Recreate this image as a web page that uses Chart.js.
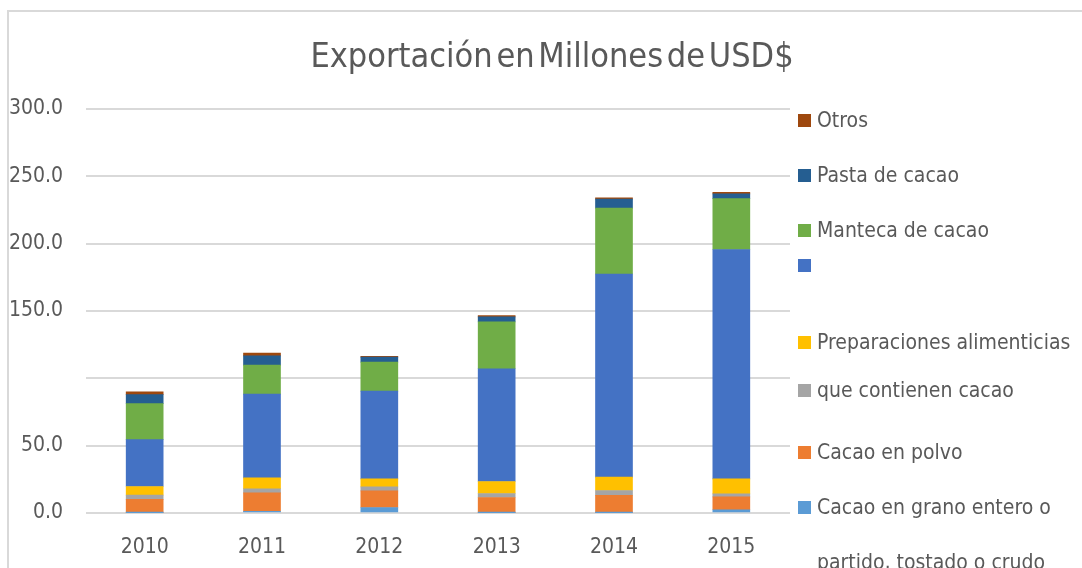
<!DOCTYPE html>
<html>
<head>
<meta charset="utf-8">
<script src="https://cdn.jsdelivr.net/npm/chart.js@4/dist/chart.umd.min.js"></script>
<style>
  html, body { margin: 0; background: #fff; overflow: hidden; }
  #wrap { position: relative; width: 1082px; height: 568px; overflow: hidden; }
  #frameTop { position: absolute; left: 7px; top: 10px; width: 1075px; height: 2px; background: #d9d9d9; }
  #frameLeft { position: absolute; left: 7px; top: 10px; width: 2px; height: 558px; background: #d9d9d9; }
  canvas { position: absolute; left: 0; top: 0; }
  #title { position: absolute; left: 552px; top: 38px; transform: translateX(-50%); white-space: nowrap;
           font-family: "DejaVu Sans Condensed", "DejaVu Sans", sans-serif; font-size: 34px; line-height: 34px;
           color: #595959; word-spacing: -6px; }
  #legend { position: absolute; left: 798px; top: 0; font-family: "DejaVu Sans Condensed", "DejaVu Sans", sans-serif;
            font-size: 21px; color: #595959; }
  .item { position: absolute; left: 0; white-space: nowrap; display: flex; align-items: center; }
  .sw { width: 13px; height: 13px; margin-right: 6px; flex: none; }
  .item span.txt { line-height: 55px; }
</style>
</head>
<body>
<div id="wrap">
  <div id="frameTop"></div>
  <div id="frameLeft"></div>
  <canvas id="chart" width="1082" height="568"></canvas>
  <div id="title">Exportación en Millones de USD$</div>
  <div id="legend"></div>
</div>
<script>
const years = ['2010', '2011', '2012', '2013', '2014', '2015'];
const seriesNames = ['Cacao en grano entero o partido, tostado o crudo', 'Cacao en polvo', 'que contienen cacao',
    'Preparaciones alimenticias', '', 'Manteca de cacao', 'Pasta de cacao', 'Otros'];
const seriesColors = ['#5b9bd5', '#ed7d31', '#a5a5a5', '#ffc000', '#4472c4', '#70ad47', '#255e91', '#9e480e'];

const granoValues = [0.2, 1.2, 4.1, 0.2, 0.2, 2.4];
const polvoValues = [9.9, 13.8, 12.3, 11.3, 13.0, 9.6];
const contienenValues = [3.2, 3.0, 3.0, 3.0, 3.5, 2.2];
const preparacionesValues = [6.4, 8.1, 5.9, 8.9, 9.9, 11.1];
const sinNombreValues = [34.8, 62.2, 65.2, 83.7, 150.9, 170.4];
const mantecaValues = [26.7, 21.5, 21.5, 34.8, 48.9, 37.8];
const pastaValues = [6.7, 6.9, 3.7, 3.7, 6.7, 3.5];
const otrosValues = [2.0, 2.0, 0.7, 1.0, 1.0, 1.2];

const yTicks = [0, 50, 100, 150, 200, 250, 300];
const hiddenTickLabels = [100];

const allValues = [granoValues, polvoValues, contienenValues, preparacionesValues,
    sinNombreValues, mantecaValues, pastaValues, otrosValues];

const FONT = '"DejaVu Sans Condensed", "DejaVu Sans", sans-serif';
const TEXT = '#595959';

const datasets = allValues.map((vals, i) => ({
    label: seriesNames[i],
    data: vals,
    backgroundColor: seriesColors[i],
    borderWidth: 0,
    barThickness: 37
}));

new Chart(document.getElementById('chart').getContext('2d'), {
    type: 'bar',
    data: { labels: years, datasets: datasets },
    options: {
        responsive: false,
        animation: false,
        layout: { padding: { left: 0, right: 292, top: 109, bottom: 0 } },
        plugins: {
            legend: { display: false },
            tooltip: { enabled: false },
            title: { display: false }
        },
        scales: {
            x: {
                stacked: true,
                grid: { display: false },
                border: { display: false },
                ticks: { color: TEXT, font: { family: FONT, size: 21 }, padding: 14 },
                afterFit: scale => { scale.height = 55; }
            },
            y: {
                stacked: true,
                min: 0,
                max: 300,
                afterBuildTicks: scale => { scale.ticks = yTicks.map(v => ({ value: v })); },
                grid: { color: '#d9d9d9', lineWidth: 2, drawTicks: false },
                border: { display: false },
                ticks: {
                    color: TEXT,
                    font: { family: FONT, size: 21 },
                    padding: 23,
                    callback: v => hiddenTickLabels.includes(v) ? '' : v.toFixed(1)
                },
                afterFit: scale => { scale.width = 86; }
            }
        }
    }
});

// legend, top entry first like the original
const legend = document.getElementById('legend');
const legendY = [120, 175, 230, 286, 342, 390, 452, 507];
seriesNames.slice().reverse().forEach((name, i) => {
    const idx = seriesNames.length - 1 - i;
    const item = document.createElement('div');
    item.className = 'item';
    item.style.top = (legendY[i] - 27) + 'px';
    item.innerHTML = '<div class="sw" style="background:' + seriesColors[idx] + '"></div><span class="txt"></span>';
    item.querySelector('.txt').textContent = name;
    if (idx === 0) {
        item.querySelector('.txt').style.whiteSpace = 'normal';
        item.querySelector('.txt').style.width = '270px';
        item.querySelector('.txt').style.display = 'block';
        item.style.alignItems = 'flex-start';
        item.querySelector('.sw').style.marginTop = '21px';
    }
    legend.appendChild(item);
});
</script>
</body>
</html>
